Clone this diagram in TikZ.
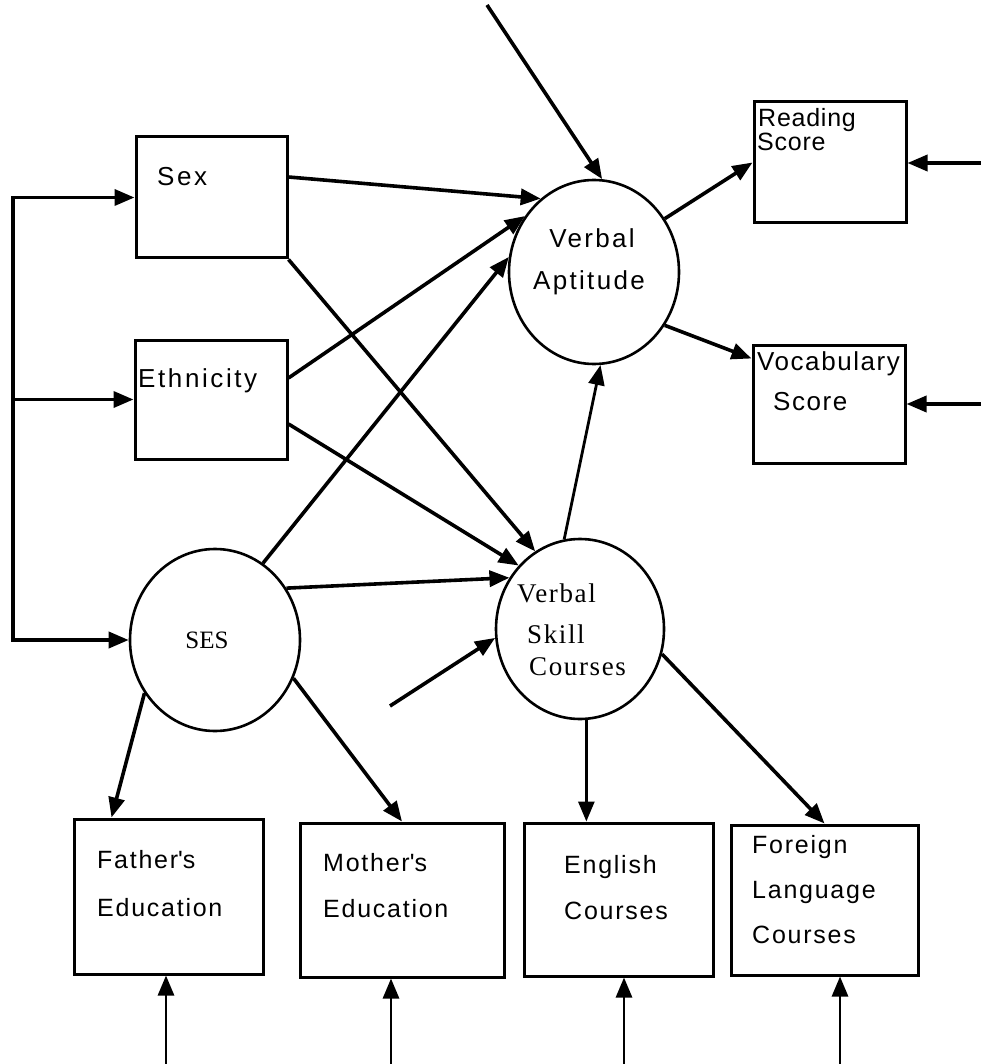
\documentclass[tikz,border=0pt]{standalone}
\usepackage{fontspec}
\usetikzlibrary{arrows.meta,shapes.geometric}
\newfontfamily\sansf[LetterSpace=10]{Liberation Sans}
\newfontfamily\sansva[LetterSpace=9]{Liberation Sans}
\newfontfamily\sansrd[LetterSpace=3]{Liberation Sans}
\newfontfamily\sansvc[LetterSpace=6]{Liberation Sans}
\newfontfamily\sansbt[LetterSpace=7]{Liberation Sans}
\newfontfamily\seriff[LetterSpace=6]{Liberation Serif}
\newfontfamily\sesf{Liberation Serif}
\begin{document}
\begin{tikzpicture}[x=1pt,y=-1pt,
  box/.style={draw, line width=3pt, rectangle, inner sep=0pt},
  latent/.style={draw, line width=2.6pt, ellipse, inner sep=0pt},
  lbl/.style={anchor=base west, inner sep=0pt, font=\sansf\fontsize{26}{26}\selectfont},
  valbl/.style={anchor=base, inner sep=0pt, font=\sansva\fontsize{26}{26}\selectfont},
  rdlbl/.style={anchor=base west, inner sep=0pt, font=\sansrd\fontsize{25}{25}\selectfont},
  vclbl/.style={anchor=base west, inner sep=0pt, font=\sansvc\fontsize{26}{26}\selectfont},
  btlbl/.style={anchor=base west, inner sep=0pt, font=\sansbt\fontsize{25}{25}\selectfont},
  slbl/.style={anchor=base west, inner sep=0pt, font=\seriff\fontsize{27}{27}\selectfont},
  arr/.style={line width=3.6pt, -{Triangle[length=20pt,width=16pt]}},
  tarr/.style={line width=2.8pt, -{Triangle[length=20pt,width=16pt]}},
]
\useasboundingbox[fill=white] (0,0) rectangle (980,1064);

% observed boxes
\node[box, minimum width=151pt, minimum height=121pt] (sex) at (211.5,197.5) {};
\node[box, minimum width=152pt, minimum height=119pt] (eth) at (211,399.5) {};
\node[box, minimum width=152pt, minimum height=121pt] (reading) at (830,162.5) {};
\node[box, minimum width=152pt, minimum height=118pt] (vocab) at (829,404) {};
\node[box, minimum width=189pt, minimum height=155pt] (father) at (168.5,896.5) {};
\node[box, minimum width=204pt, minimum height=154pt] (mother) at (402,900) {};
\node[box, minimum width=189pt, minimum height=153pt] (english) at (618.5,899.5) {};
\node[box, minimum width=187pt, minimum height=150pt] (foreign) at (824.5,900) {};

% latent variables
\node[latent, minimum width=170pt, minimum height=184pt] (va) at (594,272) {};
\node[latent, minimum width=168pt, minimum height=180pt] (vsc) at (580,629) {};
\node[latent, minimum width=170pt, minimum height=182pt] (ses) at (215,640) {};

% labels
\node[lbl] (sext) at (157,186) {Sex};
\node[lbl] (etht) at (138,387) {Ethnicity};
\node[valbl] (vat1) at (592,248) {Verbal};
\node[valbl] (vat2) at (589,289) {Aptitude};
\node[rdlbl] (rdt1) at (758,127) {Reading};
\node[rdlbl] (rdt2) at (757,151) {Score};
\node[vclbl] (vct1) at (757,370) {Vocabulary};
\node[vclbl] (vct2) at (773,410) {Score};
\node[slbl] (vst1) at (517,602) {Verbal};
\node[slbl] (vst2) at (527,643) {Skill};
\node[slbl] (vst3) at (529,675) {Courses};
\node[anchor=base, inner sep=0pt, font=\sesf\fontsize{25}{25}\selectfont] (sest) at (207,648) {SES};
\node[btlbl] (fat1) at (97,868) {Father\textquotesingle s};
\node[btlbl] (fat2) at (97,916) {Education};
\node[btlbl] (mot1) at (323,871) {Mother\textquotesingle s};
\node[btlbl] (mot2) at (323,917) {Education};
\node[btlbl] (ent1) at (564,873) {English};
\node[btlbl] (ent2) at (564,919) {Courses};
\node[btlbl] (fot1) at (752,853) {Foreign};
\node[btlbl] (fot2) at (752,898) {Language};
\node[btlbl] (fot3) at (752,943) {Courses};

% free ends
\coordinate (bx) at (13,0);
\coordinate (topin) at (487,5);
\coordinate (vin) at (390,706);
\coordinate (rin) at (982,163);
\coordinate (vcin) at (982,404);
\coordinate (fb) at (166,1066);
\coordinate (mb) at (391,1066);
\coordinate (eb) at (624,1066);
\coordinate (gb) at (840,1066);

% exogenous bracket
\draw[line width=3.6pt, line cap=rect] (sex.west -| bx) -- (ses.west -| bx);
\draw[arr] (sex.west -| bx) -- (sex.west);
\draw[arr] (eth.west -| bx) -- (eth.west);
\draw[arr] (ses.west -| bx) -- (ses.west);

% paths
\draw[arr] ([yshift=20.5pt]sex.east) -- (va.126.5);
\draw[arr] (sex.south east) -- (vsc.120);
\draw[arr] ([yshift=21.5pt]eth.east) -- (va.141);
\draw[arr] ([yshift=-24.5pt]eth.east) -- (vsc.134);
\draw[arr] (ses.58.6) -- (va.170);
\draw[arr] (ses.36.6) -- (vsc.144);
\draw[tarr] (vsc.100) -- (va.274);
\draw[arr] (topin) -- (va.85);
\draw[arr] (vin) -- (vsc.186);
\draw[arr] (va.37.5) -- (reading.west);
\draw[arr] (va.-37.7) -- ([yshift=-15pt]vocab.north west);
\draw[arr] (rin) -- (rin -| reading.east);
\draw[arr] (vcin) -- (vcin -| vocab.east);
\draw[arr] (ses.217) -- ([xshift=39pt]father.north west);
\draw[arr] (ses.334.6) -- (mother.north);
\draw[tarr] (vsc.274) -- (vsc.274 |- english.north);
\draw[arr] (vsc.-17.4) -- (foreign.north);
\draw[tarr] (fb) -- (fb |- father.south);
\draw[tarr] (mb) -- (mb |- mother.south);
\draw[tarr] (eb) -- (eb |- english.south);
\draw[tarr] (gb) -- (gb |- foreign.south);
\end{tikzpicture}
\end{document}
